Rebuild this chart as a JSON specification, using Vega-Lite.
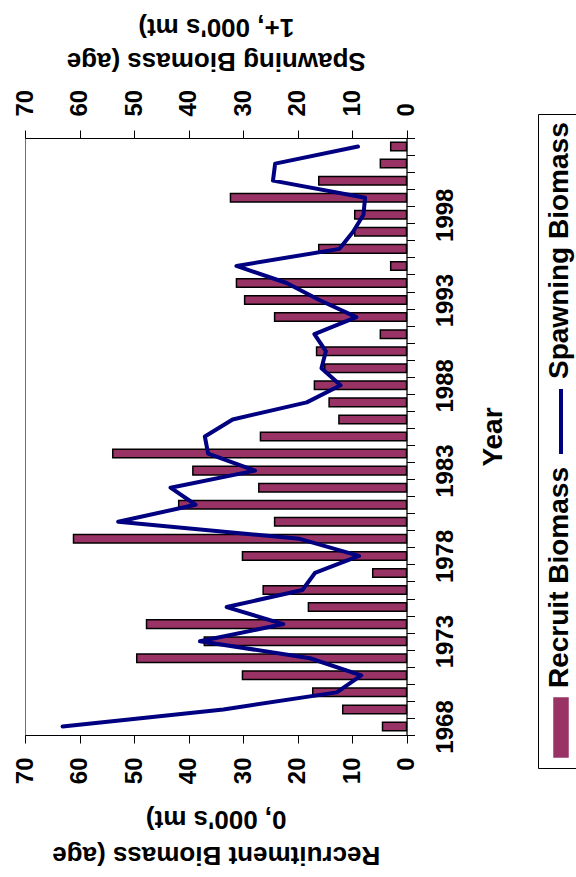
{
  "$schema": "https://vega.github.io/schema/vega-lite/v6.json",
  "width": 381.5,
  "height": 597,
  "autosize": {"type": "none"},
  "padding": {"left": 25, "top": 138, "right": 169.5, "bottom": 142},
  "background": "white",
  "data": {
    "values": [
      {"year": 1968, "recruit": 4.4, "spawning": 63.1},
      {"year": 1969, "recruit": 11.7, "spawning": 33.6},
      {"year": 1970, "recruit": 17.2, "spawning": 12.8},
      {"year": 1971, "recruit": 30.1, "spawning": 8.3},
      {"year": 1972, "recruit": 49.5, "spawning": 17.7},
      {"year": 1973, "recruit": 37.1, "spawning": 37.9},
      {"year": 1974, "recruit": 47.7, "spawning": 22.6},
      {"year": 1975, "recruit": 18.0, "spawning": 33.0},
      {"year": 1976, "recruit": 26.3, "spawning": 19.1},
      {"year": 1977, "recruit": 6.2, "spawning": 16.8},
      {"year": 1978, "recruit": 30.1, "spawning": 8.7},
      {"year": 1979, "recruit": 61.1, "spawning": 19.6},
      {"year": 1980, "recruit": 24.2, "spawning": 52.9},
      {"year": 1981, "recruit": 41.8, "spawning": 38.7},
      {"year": 1982, "recruit": 27.1, "spawning": 43.3},
      {"year": 1983, "recruit": 39.2, "spawning": 27.8},
      {"year": 1984, "recruit": 53.9, "spawning": 36.4},
      {"year": 1985, "recruit": 26.8, "spawning": 37.0},
      {"year": 1986, "recruit": 12.4, "spawning": 31.9},
      {"year": 1987, "recruit": 14.2, "spawning": 18.3},
      {"year": 1988, "recruit": 16.9, "spawning": 12.1},
      {"year": 1989, "recruit": 15.0, "spawning": 15.6},
      {"year": 1990, "recruit": 16.5, "spawning": 14.8},
      {"year": 1991, "recruit": 4.8, "spawning": 16.9},
      {"year": 1992, "recruit": 24.2, "spawning": 9.2},
      {"year": 1993, "recruit": 29.7, "spawning": 16.0},
      {"year": 1994, "recruit": 31.2, "spawning": 22.0},
      {"year": 1995, "recruit": 2.9, "spawning": 31.2},
      {"year": 1996, "recruit": 16.1, "spawning": 12.3},
      {"year": 1997, "recruit": 9.5, "spawning": 9.8},
      {"year": 1998, "recruit": 9.5, "spawning": 7.9},
      {"year": 1999, "recruit": 32.3, "spawning": 7.6},
      {"year": 2000, "recruit": 16.1, "spawning": 24.5},
      {"year": 2001, "recruit": 4.8, "spawning": 24.1},
      {"year": 2002, "recruit": 2.9, "spawning": 8.9}
    ]
  },
  "encoding": {
    "y": {
      "field": "year",
      "type": "ordinal",
      "sort": "descending",
      "scale": {"paddingInner": 0, "paddingOuter": 0},
      "axis": {
        "orient": "right",
        "tickBand": "extent",
        "labelExpr": "(+datum.value - 1968) % 5 === 0 ? datum.label : ''",
        "labelOverlap": false,
        "labelAngle": 270,
        "labelAlign": "center",
        "labelBaseline": "top",
        "tickSize": 8,
        "labelPadding": 19,
        "title": "Year",
        "titleFontSize": 28,
        "titleAngle": 270,
        "titleBaseline": "top",
        "titleAlign": "center",
        "titlePadding": 22,
        "encode": {"ticks": {"x": {"value": -8}, "x2": {"value": 8}}}
      }
    }
  },
  "layer": [
    {
      "mark": {"type": "bar", "height": {"band": 0.5}, "stroke": "black", "strokeWidth": 1.5},
      "encoding": {
        "x": {
          "field": "recruit",
          "type": "quantitative",
          "scale": {"domain": [0, 70], "reverse": true, "nice": false},
          "axis": {
            "orient": "bottom",
            "values": [0, 10, 20, 30, 40, 50, 60, 70],
            "labelAngle": 270,
            "labelAlign": "right",
            "labelBaseline": "middle",
            "labelFlush": false,
            "labelOverlap": false,
            "tickSize": 8,
            "labelPadding": 14,
            "title": ["Recruitment Biomass (age", "0, 000's mt)"],
            "titleAngle": 180,
            "titleBaseline": "bottom",
            "titleLineHeight": 36,
            "titlePadding": 58,
            "encode": {"ticks": {"y": {"value": -8}, "y2": {"value": 8}}}
          }
        },
        "color": {
          "datum": "Recruit Biomass",
          "scale": {"domain": ["Spawning Biomass", "Recruit Biomass"], "range": ["#000080", "#993366"]},
          "legend": {
            "orient": "none",
            "legendX": 513,
            "legendY": -24,
            "title": null,
            "direction": "vertical",
            "labelFont": "Liberation Sans",
            "labelFontSize": 28,
            "labelFontWeight": "bold",
            "labelColor": "black",
            "labelLimit": 0,
            "strokeColor": "black",
            "padding": 8,
            "rowPadding": 5,
            "encode": {
              "symbols": {
                "update": {
                  "shape": {"signal": "datum.value === 'Recruit Biomass' ? 'M-0.237,-1H0.237V1H-0.237Z' : 'M0,-1L0,1'"},
                  "size": {"signal": "datum.value === 'Recruit Biomass' ? 3481 : 4225"},
                  "strokeWidth": {"signal": "datum.value === 'Recruit Biomass' ? 1.5 : 4"},
                  "opacity": {"value": 1},
                  "x": {"value": 15},
                  "y": {"signal": "datum.value === 'Recruit Biomass' ? 260.5 : 299.5"}
                }
              },
              "labels": {
                "update": {
                  "angle": {"value": 270},
                  "align": {"value": "left"},
                  "baseline": {"value": "middle"},
                  "x": {"value": 14},
                  "y": {"signal": "datum.value === 'Recruit Biomass' ? 221 : 257"}
                }
              }
            }
          }
        }
      }
    },
    {
      "mark": {"type": "line", "strokeWidth": 4, "strokeJoin": "round", "strokeCap": "round"},
      "encoding": {
        "x": {
          "field": "spawning",
          "type": "quantitative",
          "scale": {"domain": [0, 70], "reverse": true, "nice": false},
          "axis": {
            "orient": "top",
            "values": [0, 10, 20, 30, 40, 50, 60, 70],
            "labelAngle": 270,
            "labelAlign": "left",
            "labelBaseline": "middle",
            "labelFlush": false,
            "labelOverlap": false,
            "tickSize": 8,
            "labelPadding": 14,
            "title": ["Spawning Biomass (age", "1+, 000's mt)"],
            "titleAngle": 180,
            "titleBaseline": "top",
            "titleLineHeight": 34,
            "titlePadding": -18,
            "encode": {"ticks": {"y": {"value": -8}, "y2": {"value": 8}}}
          }
        },
        "order": {"field": "year", "type": "quantitative"},
        "color": {
          "datum": "Spawning Biomass",
          "scale": {"domain": ["Spawning Biomass", "Recruit Biomass"], "range": ["#000080", "#993366"]},
          "legend": {
            "orient": "none",
            "legendX": 513,
            "legendY": -24,
            "title": null,
            "direction": "vertical",
            "labelFont": "Liberation Sans",
            "labelFontSize": 28,
            "labelFontWeight": "bold",
            "labelColor": "black",
            "labelLimit": 0,
            "strokeColor": "black",
            "padding": 8,
            "rowPadding": 5,
            "encode": {
              "symbols": {
                "update": {
                  "shape": {"signal": "datum.value === 'Recruit Biomass' ? 'M-0.237,-1H0.237V1H-0.237Z' : 'M0,-1L0,1'"},
                  "size": {"signal": "datum.value === 'Recruit Biomass' ? 3481 : 4225"},
                  "strokeWidth": {"signal": "datum.value === 'Recruit Biomass' ? 1.5 : 4"},
                  "opacity": {"value": 1},
                  "x": {"value": 15},
                  "y": {"signal": "datum.value === 'Recruit Biomass' ? 260.5 : 299.5"}
                }
              },
              "labels": {
                "update": {
                  "angle": {"value": 270},
                  "align": {"value": "left"},
                  "baseline": {"value": "middle"},
                  "x": {"value": 14},
                  "y": {"signal": "datum.value === 'Recruit Biomass' ? 221 : 257"}
                }
              }
            }
          }
        }
      }
    }
  ],
  "resolve": {"axis": {"x": "independent"}},
  "config": {
    "font": "Liberation Sans",
    "view": {"stroke": "#707070", "strokeWidth": 1},
    "axis": {
      "labelFont": "Liberation Sans",
      "labelFontSize": 24,
      "labelFontWeight": "bold",
      "labelColor": "black",
      "titleFont": "Liberation Sans",
      "titleFontSize": 26,
      "titleFontWeight": "bold",
      "titleColor": "black",
      "domainColor": "black",
      "domainWidth": 1,
      "tickColor": "black",
      "tickWidth": 1,
      "grid": false
    }
  }
}
